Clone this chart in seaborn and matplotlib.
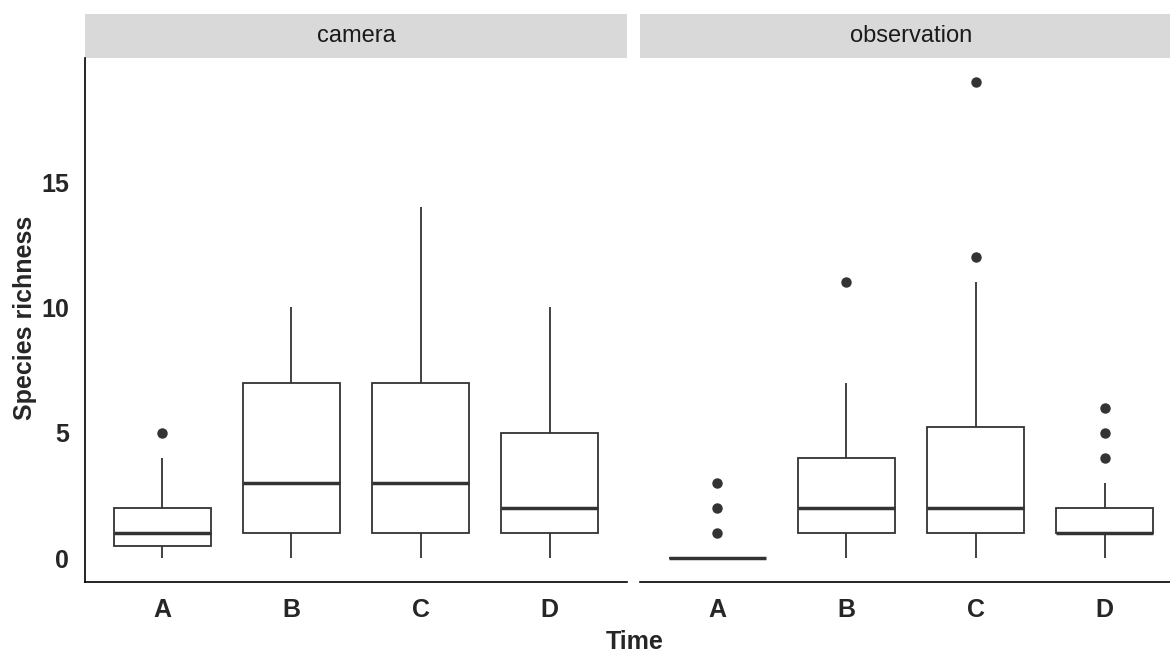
import numpy as np
import pandas as pd
import matplotlib.pyplot as plt
import seaborn as sns
from matplotlib.patches import Rectangle

sns.set_style("white")
plt.rcParams['font.family'] = ['Liberation Sans', 'DejaVu Sans']

# Species richness per survey
times = ['A', 'B', 'C', 'D']
methods = ['camera', 'observation']

camera_A = [0, 0, 0, 1, 1, 1, 2, 2, 2, 4, 5]
camera_B = [0, 1, 1, 2, 3, 5, 7, 9, 10]
camera_C = [0, 1, 1, 2, 3, 5, 7, 10, 14]
camera_D = [0, 1, 1, 2, 2, 3, 5, 7, 10]

observation_A = [0, 0, 0, 0, 0, 0, 0, 0, 0, 0, 1, 2, 3]
observation_B = [0, 1, 1, 2, 2, 3, 4, 7, 11]
observation_C = [0, 0, 1, 1, 1, 1, 2, 2, 2, 3, 4, 5, 6, 11, 12, 19]
observation_D = [0, 1, 1, 1, 1, 1, 1, 1, 1, 2, 2, 2, 2, 3, 4, 5, 6]

groups = {
    ('camera', 'A'): camera_A, ('camera', 'B'): camera_B,
    ('camera', 'C'): camera_C, ('camera', 'D'): camera_D,
    ('observation', 'A'): observation_A, ('observation', 'B'): observation_B,
    ('observation', 'C'): observation_C, ('observation', 'D'): observation_D,
}
rows = [(m, t, v) for (m, t), vals in groups.items() for v in vals]
df = pd.DataFrame(rows, columns=['Method', 'Time', 'Richness'])

fig = plt.figure(figsize=(11.7, 6.53), dpi=100)
W, H = 1170, 653
panel_w = 542 / W
bottom = 71 / H
height = 524 / H
ax1 = fig.add_axes([85 / W, bottom, panel_w, height])
ax2 = fig.add_axes([640 / W, bottom, panel_w, height])

edge = '#333333'
for ax, m in zip([ax1, ax2], methods):
    sns.boxplot(data=df[df['Method'] == m], x='Time', y='Richness', order=times,
                ax=ax, color='white', linecolor=edge, linewidth=1.3, width=0.75,
                showcaps=False,
                medianprops={'linewidth': 2.5, 'color': edge},
                flierprops={'marker': 'o', 'markerfacecolor': edge,
                            'markeredgecolor': edge, 'markersize': 6.5})
    ax.set_xlim(-0.6, 3.6)
    ax.set_ylim(-0.95, 19.95)
    ax.set_xlabel('')
    ax.set_ylabel('')
    for s in ['top', 'right']:
        ax.spines[s].set_visible(False)
    ax.spines['bottom'].set_color('black')
    ax.spines['bottom'].set_linewidth(1.2)
    ax.spines['left'].set_color('black')
    ax.spines['left'].set_linewidth(1.2)
    ax.tick_params(axis='both', length=5.5, width=0.9, color=edge,
                   labelsize=18, direction='out')
    ax.tick_params(axis='x', pad=6)
    ax.tick_params(axis='y', pad=6)
    for lab in ax.get_xticklabels() + ax.get_yticklabels():
        lab.set_fontweight('bold')
    # facet strip
    ax.add_patch(Rectangle((0, 1), 1, 44 / 524, transform=ax.transAxes,
                           clip_on=False, facecolor='#D9D9D9', edgecolor='none'))
    ax.text(0.5, 1 + 22 / 524, m, transform=ax.transAxes, ha='center',
            va='center', fontsize=17, color='#1A1A1A')

ax1.set_yticks([0, 5, 10, 15])
ax2.spines['left'].set_visible(False)
ax2.tick_params(axis='y', left=False, labelleft=False)

fig.text(635 / W, 1 - 642 / H, 'Time', ha='center', va='center',
         fontsize=18, fontweight='bold')
fig.text(25 / W, 1 - 318 / H, 'Species richness', ha='center', va='center',
         rotation=90, fontsize=18, fontweight='bold')

fig.savefig('out.png', dpi=100)
